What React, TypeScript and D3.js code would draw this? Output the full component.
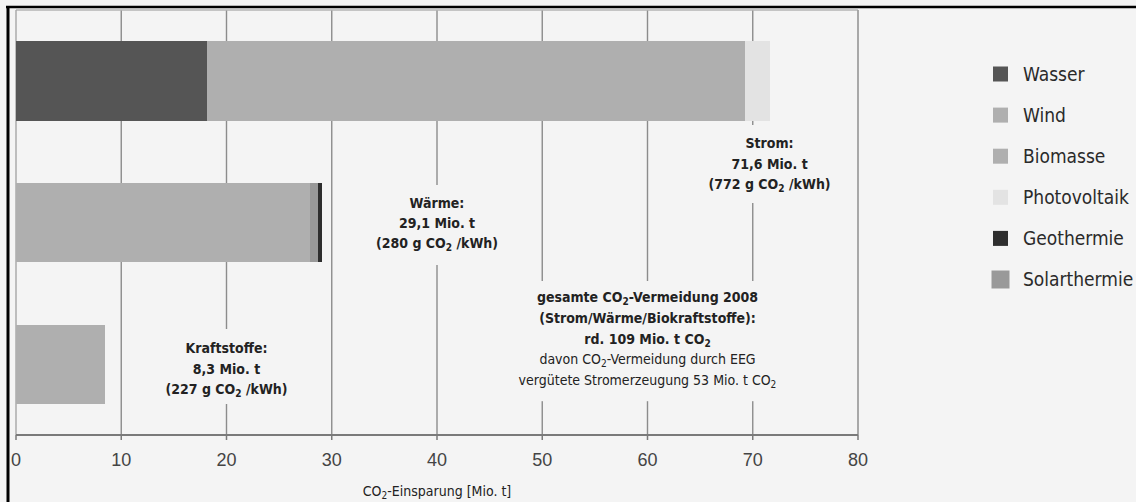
import React, { useEffect, useRef } from "react";
import * as d3 from "d3";

// ---- data ----
const categories = ["Strom", "Wärme", "Kraftstoffe"];
const seriesNames = ["Wasser", "Wind", "Biomasse", "Photovoltaik", "Geothermie", "Solarthermie"];
const seriesColors = ["#555555", "#afafaf", "#afafaf", "#e3e3e3", "#2e2e2e", "#999999"];
// values per category in the stacking order drawn in the bar
const stromValues = [
  { name: "Wasser", value: 18.1 },
  { name: "Wind", value: 30.4 },
  { name: "Biomasse", value: 20.8 },
  { name: "Photovoltaik", value: 2.3 },
];
const waermeValues = [
  { name: "Biomasse", value: 27.9 },
  { name: "Solarthermie", value: 0.8 },
  { name: "Geothermie", value: 0.4 },
];
const kraftValues = [{ name: "Biomasse", value: 8.5 }];
const xTicks = [0, 10, 20, 30, 40, 50, 60, 70, 80];
const xTitle = "CO_2-Einsparung [Mio. t]";

const stromLabel = ["Strom:", "71,6  Mio. t", "(772 g CO_2 /kWh)"];
const waermeLabel = ["Wärme:", "29,1  Mio. t", "(280 g CO_2 /kWh)"];
const kraftLabel = ["Kraftstoffe:", "8,3 Mio. t", "(227 g CO_2 /kWh)"];
const gesamtBold = ["gesamte CO_2-Vermeidung 2008", "(Strom/Wärme/Biokraftstoffe):", "rd. 109 Mio. t CO_2"];
const gesamtNormal = ["davon CO_2-Vermeidung durch EEG", "vergütete Stromerzeugung 53 Mio. t CO_2"];

const W = 1136;
const H = 502;
const BG = "#f4f4f4";
const FONT = "'DejaVu Sans Condensed', 'DejaVu Sans', sans-serif";
const NARROW = "'Liberation Sans Narrow', 'Arial Narrow', 'Liberation Sans', sans-serif";

function addLine(textSel: any, str: string) {
  const parts = str.split("_2");
  parts.forEach((p, i) => {
    if (p.length) {
      const ts = textSel.append("tspan").text(p);
      if (i > 0) ts.attr("dy", -3);
    }
    if (i < parts.length - 1) {
      textSel.append("tspan").attr("font-size", "0.72em").attr("dy", 3).text("2");
    }
  });
}

export default function App() {
  const ref = useRef<SVGSVGElement>(null);

  useEffect(() => {
    const svg = d3.select(ref.current);
    svg.selectAll("*").remove();

    const left = 16, right = 858, top = 10, bottom = 435;
    const x = d3.scaleLinear().domain([0, 80]).range([left, right]);
    const y = d3.scaleBand().domain(categories).range([top, bottom]).paddingInner(0.44).paddingOuter(0.22);
    const color = d3.scaleOrdinal<string, string>().domain(seriesNames).range(seriesColors);

    svg.append("rect").attr("width", W).attr("height", H).attr("fill", BG);

    // gridlines
    const grid = svg.append("g");
    grid.selectAll("line").data(xTicks.filter(t => t > 0 && t < 80)).join("line")
      .attr("x1", d => x(d)).attr("x2", d => x(d)).attr("y1", top).attr("y2", bottom)
      .attr("stroke", "#8c8c8c").attr("stroke-width", 1.4);

    // plot frame
    svg.append("line").attr("x1", left).attr("x2", right).attr("y1", top).attr("y2", top)
      .attr("stroke", "#b5b5b5").attr("stroke-width", 1.4);
    svg.append("line").attr("x1", left).attr("x2", left).attr("y1", top).attr("y2", bottom)
      .attr("stroke", "#a5a5a5").attr("stroke-width", 1.4);
    svg.append("line").attr("x1", right).attr("x2", right).attr("y1", top).attr("y2", bottom)
      .attr("stroke", "#a0a0a0").attr("stroke-width", 1.8);

    // label blocks with background boxes (interrupt gridlines)
    const labels = svg.append("g");
    function block(cx: number, y0: number, bold: string[], normal: string[], gap: number, pad: number[]) {
      const g = labels.append("g");
      const bg = g.append("rect").attr("fill", BG);
      const t = g.append("g").attr("fill", "#222").attr("font-family", FONT).attr("text-anchor", "middle");
      let yy = y0;
      bold.forEach(l => {
        const te = t.append("text").attr("x", cx).attr("y", yy).attr("font-weight", "bold").attr("font-size", 14);
        addLine(te, l);
        yy += gap;
      });
      normal.forEach(l => {
        const te = t.append("text").attr("x", cx).attr("y", yy).attr("font-size", 14);
        addLine(te, l);
        yy += gap;
      });
      const bb = (t.node() as SVGGElement).getBBox();
      bg.attr("x", bb.x - 4).attr("y", bb.y - pad[0]).attr("width", bb.width + 8).attr("height", bb.height + pad[0] + pad[1]);
    }
    block(x(71.6), 148, stromLabel, [], 20.5, [10, 9]);
    block(x(40), 208, waermeLabel, [], 20, [10, 12]);
    block(x(20), 353, kraftLabel, [], 20.5, [11, 5]);
    block(x(60), 302, gesamtBold, gesamtNormal, 20.8, [8, 11]);

    // bars
    const stacks = [
      { cat: "Strom", vals: stromValues },
      { cat: "Wärme", vals: waermeValues },
      { cat: "Kraftstoffe", vals: kraftValues },
    ];
    const bars = svg.append("g").attr("shape-rendering", "crispEdges");
    stacks.forEach(s => {
      let acc = 0;
      s.vals.forEach(v => {
        bars.append("rect")
          .attr("x", x(acc)).attr("width", x(acc + v.value) - x(acc))
          .attr("y", y(s.cat)!).attr("height", y.bandwidth())
          .attr("fill", color(v.name));
        acc += v.value;
      });
    });

    // x axis
    const ax = svg.append("g");
    ax.append("line").attr("x1", left).attr("x2", right).attr("y1", bottom).attr("y2", bottom)
      .attr("stroke", "#7a7a7a").attr("stroke-width", 2);
    ax.selectAll("line.tick").data(xTicks).join("line").attr("class", "tick")
      .attr("x1", d => x(d)).attr("x2", d => x(d)).attr("y1", bottom).attr("y2", bottom + 5)
      .attr("stroke", "#7a7a7a").attr("stroke-width", 1.5);
    ax.selectAll("text").data(xTicks).join("text")
      .attr("x", d => x(d)).attr("y", 466).attr("text-anchor", "middle")
      .attr("font-family", NARROW).attr("font-size", 18).attr("fill", "#444")
      .text(d => String(d));
    const tt = svg.append("text").attr("x", x(40)).attr("y", 496).attr("text-anchor", "middle")
      .attr("font-family", FONT).attr("font-size", 14).attr("fill", "#222");
    addLine(tt, xTitle);

    // legend
    const lg = svg.append("g");
    seriesNames.forEach((n, i) => {
      const cy = 74 + i * 41.1;
      const sz = n === "Solarthermie" ? 18 : 15;
      lg.append("rect").attr("x", 993 + (15 - sz) / 2).attr("y", cy - sz / 2).attr("width", sz).attr("height", sz)
        .attr("fill", color(n));
      lg.append("text").attr("x", 1023).attr("y", cy + 6.5).attr("font-family", FONT).attr("font-size", 19)
        .attr("fill", "#2a2a2a").text(n);
    });

    // outer black frame
    svg.append("line").attr("x1", 8).attr("x2", 8).attr("y1", 6).attr("y2", H).attr("stroke", "#000").attr("stroke-width", 3);
    svg.append("line").attr("x1", 6).attr("x2", W).attr("y1", 7).attr("y2", 7).attr("stroke", "#000").attr("stroke-width", 2.5);
  }, []);

  return (
    <svg ref={ref} width={W} height={H} style={{ position: "absolute", left: 0, top: 0, display: "block" }} />
  );
}
